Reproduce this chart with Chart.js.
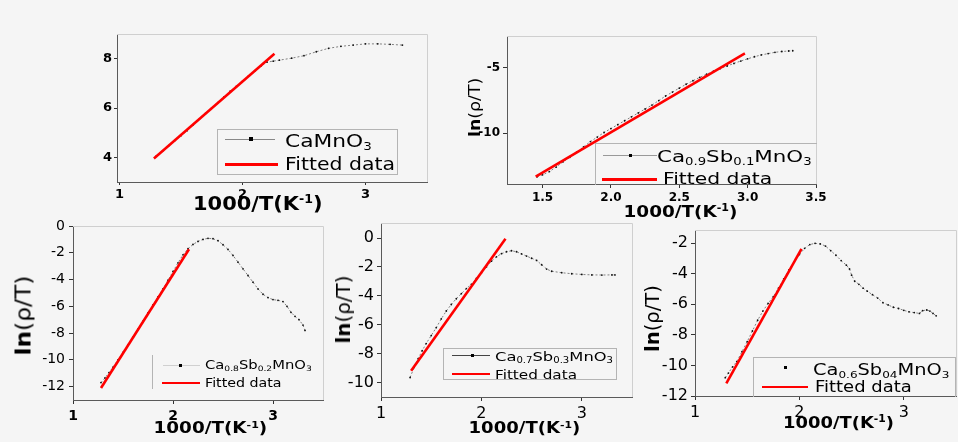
<!DOCTYPE html>
<html>
<head>
<meta charset="utf-8">
<script src="https://cdn.jsdelivr.net/npm/chart.js"></script>
<style>
  body { margin: 0; width: 958px; height: 442px; overflow: hidden; position: relative; background: #f5f5f5; font-family: "DejaVu Sans", sans-serif; }
  canvas { position: absolute; }
  .t { position: absolute; white-space: nowrap; color: #000; line-height: 1; }
  .t sub { font-size: 0.62em; vertical-align: -0.3em; line-height: 0; }
  .t sup { font-size: 0.6em; vertical-align: 0.6em; line-height: 0; }
  .bx { position: absolute; border: 1px solid #b4b4b4; box-sizing: border-box; }
  .ln { position: absolute; }
</style>
</head>
<body>
<script>
// ---- CaMnO3 ----
const p1X = [1.30, 1.35, 1.40, 1.45, 1.50, 1.55, 1.60, 1.65, 1.70, 1.75, 1.80, 1.85, 1.90, 1.95, 2.00, 2.05, 2.10, 2.15, 2.20, 2.25, 2.30, 2.40, 2.50, 2.60, 2.70, 2.80, 2.90, 3.00, 3.10, 3.20, 3.30];
const p1Y = [4.06, 4.25, 4.47, 4.68, 4.88, 5.08, 5.32, 5.55, 5.78, 6.00, 6.22, 6.45, 6.68, 6.88, 7.08, 7.30, 7.50, 7.70, 7.86, 7.90, 7.94, 8.02, 8.12, 8.28, 8.42, 8.50, 8.55, 8.60, 8.60, 8.58, 8.55];
const p1FitX = [1.28, 2.26];
const p1FitY = [3.95, 8.2];

// ---- Ca0.9Sb0.1MnO3 ----
const p2X = [1.46, 1.50, 1.55, 1.60, 1.65, 1.70, 1.75, 1.80, 1.85, 1.90, 1.95, 2.00, 2.05, 2.10, 2.15, 2.20, 2.25, 2.30, 2.35, 2.40, 2.45, 2.50, 2.55, 2.60, 2.65, 2.70, 2.75, 2.80, 2.85, 2.90, 2.95, 3.00, 3.05, 3.10, 3.15, 3.20, 3.25, 3.30, 3.33];
const p2Y = [-13.35, -13.2, -12.95, -12.6, -12.2, -11.85, -11.45, -11.05, -10.65, -10.3, -9.95, -9.65, -9.35, -9.05, -8.75, -8.45, -8.15, -7.85, -7.5, -7.15, -6.85, -6.55, -6.25, -5.98, -5.72, -5.48, -5.25, -5.05, -4.85, -4.65, -4.47, -4.3, -4.14, -4.0, -3.9, -3.8, -3.74, -3.7, -3.68];
const p2FitX = [1.45, 2.98];
const p2FitY = [-13.33, -3.88];

// ---- Ca0.8Sb0.2MnO3 ----
const p3X = [1.28, 1.32, 1.36, 1.40, 1.45, 1.50, 1.55, 1.60, 1.65, 1.70, 1.75, 1.80, 1.85, 1.90, 1.95, 2.00, 2.05, 2.10, 2.15, 2.20, 2.25, 2.30, 2.35, 2.40, 2.45, 2.50, 2.55, 2.60, 2.65, 2.70, 2.75, 2.80, 2.85, 2.90, 2.95, 3.00, 3.05, 3.10, 3.14, 3.18, 3.22, 3.26, 3.30, 3.32];
const p3Y = [-11.7, -11.35, -10.95, -10.55, -10.0, -9.45, -8.9, -8.3, -7.7, -7.1, -6.5, -5.9, -5.3, -4.7, -4.05, -3.4, -2.75, -2.15, -1.7, -1.38, -1.15, -1.0, -0.92, -0.95, -1.1, -1.4, -1.75, -2.2, -2.7, -3.2, -3.7, -4.2, -4.7, -5.1, -5.35, -5.5, -5.55, -5.65, -6.0, -6.45, -6.75, -7.0, -7.4, -7.8];
const p3FitX = [1.28, 2.16];
const p3FitY = [-12.1, -1.74];

// ---- Ca0.7Sb0.3MnO3 ----
const p4X = [1.29, 1.33, 1.37, 1.41, 1.45, 1.50, 1.55, 1.60, 1.65, 1.70, 1.75, 1.80, 1.85, 1.90, 1.95, 2.00, 2.05, 2.10, 2.15, 2.20, 2.25, 2.30, 2.35, 2.40, 2.45, 2.50, 2.55, 2.60, 2.65, 2.70, 2.80, 2.90, 3.00, 3.10, 3.20, 3.30, 3.33];
const p4Y = [-9.65, -8.95, -8.35, -7.8, -7.3, -6.75, -6.2, -5.6, -5.05, -4.6, -4.2, -3.85, -3.5, -3.2, -2.8, -2.4, -2.0, -1.6, -1.3, -1.08, -0.95, -0.88, -0.95, -1.1, -1.25, -1.4, -1.55, -1.85, -2.15, -2.3, -2.4, -2.47, -2.52, -2.55, -2.56, -2.55, -2.55];
const p4FitX = [1.30, 2.24];
const p4FitY = [-9.19, -0.05];

// ---- Ca0.6Sb0.4MnO3 ----
const p5X = [1.29, 1.32, 1.36, 1.40, 1.45, 1.50, 1.55, 1.60, 1.65, 1.70, 1.75, 1.80, 1.85, 1.90, 1.95, 2.00, 2.05, 2.10, 2.15, 2.20, 2.25, 2.30, 2.35, 2.40, 2.45, 2.48, 2.50, 2.53, 2.57, 2.61, 2.65, 2.70, 2.75, 2.80, 2.85, 2.90, 2.95, 3.00, 3.05, 3.10, 3.15, 3.18, 3.22, 3.25, 3.28, 3.31];
const p5Y = [-10.8, -10.5, -10.1, -9.75, -9.1, -8.45, -7.75, -7.05, -6.45, -5.95, -5.5, -4.95, -4.35, -3.75, -3.25, -2.75, -2.35, -2.1, -2.02, -2.06, -2.2, -2.5, -2.8, -3.15, -3.45, -3.7, -4.1, -4.5, -4.7, -4.95, -5.15, -5.38, -5.6, -5.9, -6.05, -6.2, -6.28, -6.4, -6.5, -6.55, -6.6, -6.42, -6.38, -6.45, -6.6, -6.76];
const p5FitX = [1.30, 2.02];
const p5FitY = [-11.17, -2.39];

// tick labels
const xTicksInt = [1, 2, 3];
const xTicksP2 = [1.5, 2.0, 2.5, 3.0, 3.5];
const yTicksP1 = [4, 6, 8];
const yTicksP2 = [-5, -10];
const yTicksP3 = [0, -2, -4, -6, -8, -10, -12];
const yTicksP4 = [0, -2, -4, -6, -8, -10];
const yTicksP5 = [-2, -4, -6, -8, -10, -12];

const frame = {
  id: 'frame',
  beforeDatasetsDraw(c) {
    const { ctx, chartArea: a } = c;
    ctx.save();
    ctx.strokeStyle = '#cfcfcf';
    ctx.lineWidth = 1;
    ctx.beginPath();
    ctx.moveTo(a.left, Math.round(a.top) + 0.5);
    ctx.lineTo(Math.round(a.right) + 0.5, Math.round(a.top) + 0.5);
    ctx.lineTo(Math.round(a.right) + 0.5, a.bottom);
    ctx.stroke();
    ctx.restore();
  }
};

const pts = (xs, ys) => xs.map((x, i) => ({ x: x, y: ys[i] }));

function addPanel(p) {
  const [l, t, r, b] = p.rect;
  const L = 60, T = 14, R = 24, B = 34;
  const cv = document.createElement('canvas');
  cv.width = r - l + L + R;
  cv.height = b - t + T + B;
  cv.style.left = (l - L) + 'px';
  cv.style.top = (t - T) + 'px';
  document.body.appendChild(cv);

  const axis = (min, max, ticks, font, fmt) => ({
    type: 'linear', min: min, max: max,
    afterBuildTicks: s => { s.ticks = ticks.map(v => ({ value: v })); },
    ticks: { font: font, color: '#000', padding: p.pad, autoSkip: false, maxRotation: 0, callback: fmt },
    grid: { drawOnChartArea: false, drawTicks: true, tickLength: p.tickLen, tickColor: '#333' },
    border: { color: '#5a5a5a', width: 1 }
  });
  const xs = axis(p.xMin, p.xMax, p.xTicks, p.xFont, v => p.xDec ? v.toFixed(p.xDec) : String(v));
  xs.afterFit = s => { s.height = B; };
  const ys = axis(p.yMin, p.yMax, p.yTicks, p.yFont, v => String(v));
  ys.afterFit = s => { s.width = L; };

  new Chart(cv, {
    type: 'scatter',
    data: {
      datasets: [
        { label: 'Fitted data', data: pts(p.fitX, p.fitY), showLine: true, borderColor: '#ff0000',
          borderWidth: 2.6, pointRadius: 0, order: 0 },
        { label: p.name, data: pts(p.dataX, p.dataY), showLine: true, borderColor: '#808080',
          borderWidth: 1, borderDash: [2, 2], pointRadius: 0.9, pointBackgroundColor: '#111',
          pointBorderWidth: 0, order: 1 }
      ]
    },
    options: {
      responsive: false, animation: false, devicePixelRatio: 1,
      layout: { padding: { left: 0, top: T, right: R, bottom: 0 } },
      plugins: { legend: { display: false }, tooltip: { enabled: false } },
      scales: { x: xs, y: ys }
    },
    plugins: [frame]
  });
}

// centred text, stretched to a given width (rot in degrees)
function label(html, cx, cy, size, width, weight, rot) {
  const d = document.createElement('div');
  d.className = 't';
  d.innerHTML = html;
  d.style.fontSize = size + 'px';
  d.style.fontWeight = weight;
  document.body.appendChild(d);
  const w = d.offsetWidth;
  d.style.left = (cx - w / 2) + 'px';
  d.style.top = (cy - size / 2) + 'px';
  d.style.transformOrigin = (w / 2) + 'px ' + (size / 2) + 'px';
  d.style.transform = 'rotate(' + (rot || 0) + 'deg) scaleX(' + (width / w) + ')';
}
// left-aligned text
function ltext(html, x, cy, size, width) {
  const d = document.createElement('div');
  d.className = 't';
  d.innerHTML = html;
  d.style.fontSize = size + 'px';
  document.body.appendChild(d);
  const w = d.offsetWidth;
  d.style.left = x + 'px';
  d.style.top = (cy - size / 2) + 'px';
  d.style.transformOrigin = '0 50%';
  d.style.transform = 'scaleX(' + (width / w) + ')';
}
function box(x1, y1, x2, y2, sides) {
  const d = document.createElement('div');
  d.className = 'bx';
  d.style.left = x1 + 'px'; d.style.top = y1 + 'px';
  d.style.width = (x2 - x1) + 'px'; d.style.height = (y2 - y1) + 'px';
  if (sides) d.style.borderWidth = sides;
  document.body.appendChild(d);
}
function seg(x1, x2, y, h, color) {
  const d = document.createElement('div');
  d.className = 'ln';
  d.style.left = x1 + 'px'; d.style.top = (y - h / 2) + 'px';
  d.style.width = (x2 - x1) + 'px'; d.style.height = h + 'px';
  d.style.background = color;
  document.body.appendChild(d);
}
function dot(x, y, s) { seg(x - s / 2, x + s / 2, y, s, '#000'); }

const DJ = 'DejaVu Sans';
const TITLE_X = '1000/T(K<sup>-1</sup>)';
const TITLE_Y = '<b>ln</b>(ρ/T)';

addPanel({ rect: [117, 34, 427, 182], xMin: 0.98, xMax: 3.5, yMin: 3, yMax: 9,
  xTicks: xTicksInt, yTicks: yTicksP1, xFont: { family: DJ, size: 13, weight: 'bold' },
  yFont: { family: DJ, size: 13, weight: 'bold' }, tickLen: 3, pad: 2,
  name: 'CaMnO3', dataX: p1X, dataY: p1Y, fitX: p1FitX, fitY: p1FitY });
addPanel({ rect: [507, 36, 816, 184], xMin: 1.24, xMax: 3.5, yMin: -13.9, yMax: -2.55,
  xTicks: xTicksP2, yTicks: yTicksP2, xDec: 1, xFont: { family: DJ, size: 12, weight: 'bold' },
  yFont: { family: DJ, size: 12, weight: 'bold' }, tickLen: 4, pad: 3,
  name: 'Ca0.9Sb0.1MnO3', dataX: p2X, dataY: p2Y, fitX: p2FitX, fitY: p2FitY });
addPanel({ rect: [73, 226, 323, 400], xMin: 1, xMax: 3.5, yMin: -13, yMax: 0,
  xTicks: xTicksInt, yTicks: yTicksP3, xFont: { family: DJ, size: 14, weight: 'bold' },
  yFont: { family: DJ, size: 14 }, tickLen: 4, pad: 4,
  name: 'Ca0.8Sb0.2MnO3', dataX: p3X, dataY: p3Y, fitX: p3FitX, fitY: p3FitY });
addPanel({ rect: [381, 223, 632, 397], xMin: 1, xMax: 3.5, yMin: -11, yMax: 1.04,
  xTicks: xTicksInt, yTicks: yTicksP4, xFont: { family: DJ, size: 16 },
  yFont: { family: DJ, size: 16 }, tickLen: 4, pad: 3,
  name: 'Ca0.7Sb0.3MnO3', dataX: p4X, dataY: p4Y, fitX: p4FitX, fitY: p4FitY });
addPanel({ rect: [695, 230, 956, 396], xMin: 1, xMax: 3.5, yMin: -12, yMax: -1.15,
  xTicks: xTicksInt, yTicks: yTicksP5, xFont: { family: DJ, size: 16 },
  yFont: { family: DJ, size: 16 }, tickLen: 4, pad: 3,
  name: 'Ca0.6Sb04MnO3', dataX: p5X, dataY: p5Y, fitX: p5FitX, fitY: p5FitY });

// axis titles
label(TITLE_X, 258, 203, 19, 130, 'bold');
label(TITLE_X, 680, 212, 16, 114, 'bold');
label(TITLE_X, 210, 428, 15, 114, 'bold');
label(TITLE_X, 524, 428, 15, 112, 'bold');
label(TITLE_X, 838, 423, 16, 111, 'bold');
label(TITLE_Y, 475, 107, 15, 59, 'normal', -90);
label(TITLE_Y, 24, 315, 21, 80, 'normal', -90);
label(TITLE_Y, 343, 309, 19, 68, 'normal', -90);
label(TITLE_Y, 652, 318, 19, 67, 'normal', -90);

// legends
box(217, 129, 398, 175);
seg(225, 275, 139, 1, '#888'); dot(251, 139, 4); seg(225, 278, 164, 3, '#ff0000');
ltext('CaMnO<sub>3</sub>', 285, 141, 18, 87);
ltext('Fitted data', 285, 164, 18, 110);

box(595, 143, 817, 185, '1px 0 0 1px');
seg(603, 657, 155, 1, '#999'); dot(630, 155, 3); seg(602, 657, 179, 3, '#ff0000');
ltext('Ca<sub>0.9</sub>Sb<sub>0.1</sub>MnO<sub>3</sub>', 657, 157, 16, 155);
ltext('Fitted data', 663, 179, 16, 109);

box(152, 355, 324, 389, '0 0 0 1px');
seg(163, 200, 365, 1, '#d0d0d0'); dot(180, 365, 3); seg(162, 200, 383, 2.6, '#ff0000');
ltext('Ca<sub>0.8</sub>Sb<sub>0.2</sub>MnO<sub>3</sub>', 205, 365, 12, 107);
ltext('Fitted data', 205, 383, 12, 77);

box(443, 348, 617, 380);
seg(452, 490, 355, 1, '#444'); dot(472, 355, 3); seg(452, 490, 374, 2.6, '#ff0000');
ltext('Ca<sub>0.7</sub>Sb<sub>0.3</sub>MnO<sub>3</sub>', 495, 356, 13, 118);
ltext('Fitted data', 495, 374, 13, 82);

box(753, 357, 956, 397, '1px 1px 0 1px');
dot(785, 367, 3); seg(762, 808, 387, 2.6, '#ff0000');
ltext('Ca<sub>0.6</sub>Sb<sub>04</sub>MnO<sub>3</sub>', 813, 370, 15, 137);
ltext('Fitted data', 815, 387, 15, 97);
</script>
</body>
</html>
